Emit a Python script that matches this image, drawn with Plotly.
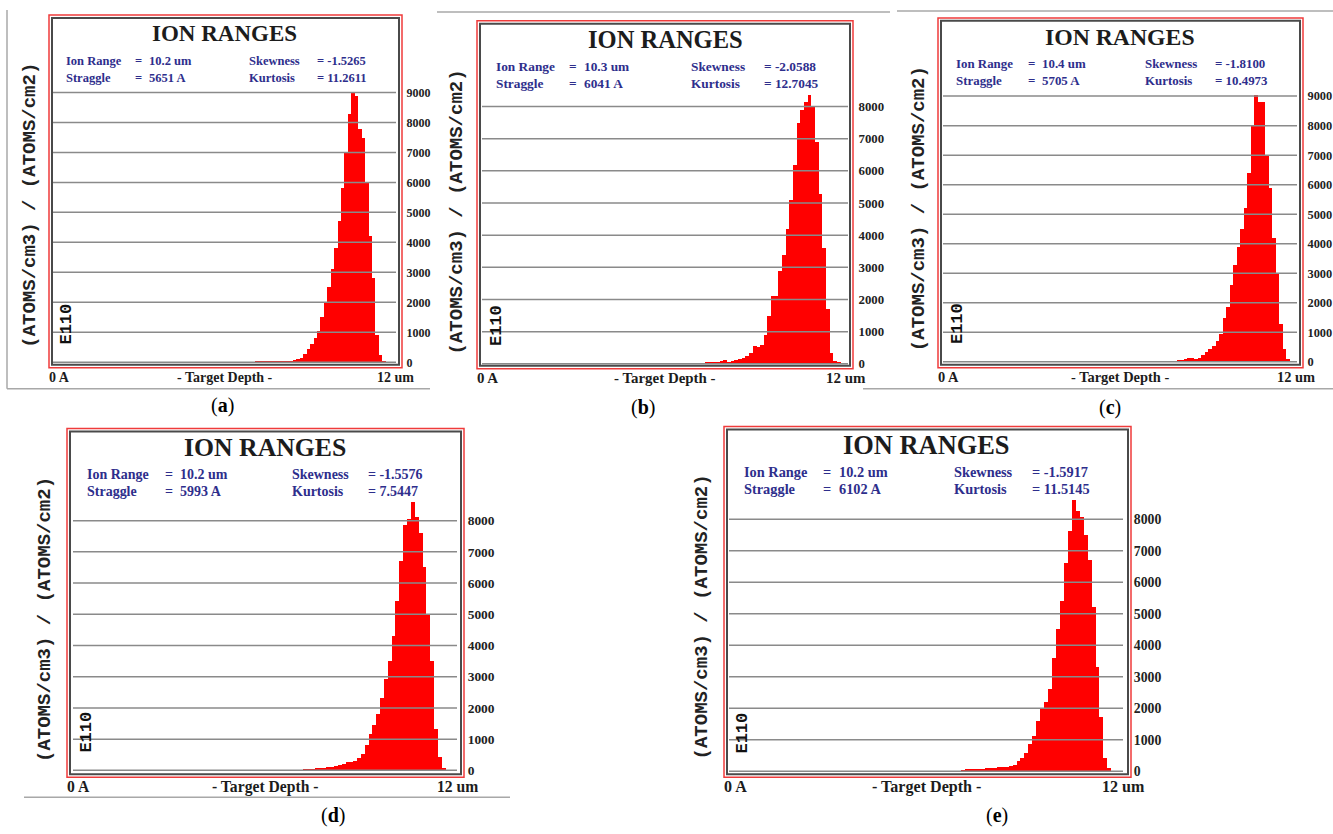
import plotly.graph_objects as go

W, H = 1333, 834

# ---------------- data ----------------
# bin centres (um) of the SRIM depth histogram, 0.12 um bins, bins 55..99
depth_um = [6.66, 6.78, 6.90, 7.02, 7.14, 7.26, 7.38, 7.50, 7.62, 7.74,
            7.86, 7.98, 8.10, 8.22, 8.34, 8.46, 8.58, 8.70, 8.82, 8.94,
            9.06, 9.18, 9.30, 9.42, 9.54, 9.66, 9.78, 9.90, 10.02, 10.14,
            10.26, 10.38, 10.50, 10.62, 10.74, 10.86, 10.98, 11.10, 11.22, 11.34,
            11.46, 11.58, 11.70, 11.82, 11.94]

ions_a = [0, 0, 0, 10, 15, 15, 20, 20, 25, 30,
          30, 35, 40, 50, 60, 70, 100, 150, 280, 450,
          600, 800, 1050, 1500, 2000, 2500, 3100, 3800, 4700, 5800,
          7000, 8300, 9000, 8900, 7800, 7500, 6000, 4200, 2800, 900,
          250, 50, 0, 0, 0]
ions_b = [0, 0, 5, 10, 20, 20, 30, 30, 40, 60,
          90, 110, 70, 90, 120, 150, 200, 260, 330, 560,
          520, 600, 900, 1500, 2100, 2100, 2900, 3400, 4200, 5100,
          6200, 7500, 7900, 8150, 8350, 8000, 6900, 5300, 3600, 1700,
          350, 100, 30, 0, 0]
ions_c = [0, 0, 0, 0, 0, 0, 0, 0, 0, 20,
          30, 50, 70, 90, 120, 150, 90, 150, 250, 330,
          450, 550, 700, 950, 1500, 1850, 2600, 3300, 3900, 4500,
          5200, 6400, 8000, 9050, 8800, 8800, 7000, 5900, 4200, 3000,
          1300, 450, 100, 0, 0]
ions_d = [0, 0, 0, 0, 0, 10, 20, 30, 40, 50,
          70, 90, 110, 140, 170, 200, 240, 270, 300, 380,
          520, 800, 1150, 1450, 1800, 2300, 2900, 3500, 4300, 5400,
          6700, 7850, 8050, 8600, 8100, 7600, 6500, 5000, 3500, 1300,
          400, 60, 0, 0, 0]
ions_e = [0, 0, 0, 0, 20, 30, 30, 30, 40, 60,
          100, 90, 80, 110, 120, 140, 160, 200, 300, 400,
          560, 850, 1100, 1600, 2000, 2200, 2600, 3600, 4500, 5400,
          6600, 7600, 8600, 8250, 8050, 7500, 6700, 5200, 3300, 1700,
          400, 80, 0, 0, 0]

panel_labels = ["a", "b", "c", "d", "e"]
ion_range = ["10.2 um", "10.3 um", "10.4 um", "10.2 um", "10.2 um"]
straggle = ["5651 A", "6041 A", "5705 A", "5993 A", "6102 A"]
skewness = ["-1.5265", "-2.0588", "-1.8100", "-1.5576", "-1.5917"]
kurtosis = ["11.2611", "12.7045", "10.4973", "7.5447", "11.5145"]
ticks_9000 = [0, 1000, 2000, 3000, 4000, 5000, 6000, 7000, 8000, 9000]
ticks_8000 = [0, 1000, 2000, 3000, 4000, 5000, 6000, 7000, 8000]
x_max_um = 12

series = [ions_a, ions_b, ions_c, ions_d, ions_e]
tick_sets = [ticks_9000, ticks_8000, ticks_9000, ticks_8000, ticks_8000]

# ---------------- layout geometry (pixels) ----------------
geom = [
    dict(red=(49, 15, 402, 370), xl=53, xr=396, y0=364.5, k=30.17, cap=(222, 408)),
    dict(red=(477, 21, 853, 371), xl=482, xr=848, y0=366.0, k=32.35, cap=(643, 410)),
    dict(red=(938, 18, 1303, 370), xl=943, xr=1297, y0=364.0, k=29.7, cap=(1110, 410)),
    dict(red=(67, 431, 464, 782), xl=73, xr=457, y0=775.0, k=31.4, cap=(333, 820)),
    dict(red=(724, 429, 1131, 782), xl=729, xr=1123, y0=776.0, k=31.7, cap=(997, 820)),
]


def px(x):
    return x / W


def py(y):
    return 1 - y / H


SERIF = "Liberation Serif"
MONO = "Liberation Mono"
NAVY = "#2e2e8c"
DARK = "#1c1c1c"

fig = go.Figure()
layout = dict(
    width=W, height=H, margin=dict(l=0, r=0, t=0, b=0),
    paper_bgcolor="white", plot_bgcolor="white",
    showlegend=False, bargap=0,
)
shapes = []
annotations = []


def ann(x, y, text, size, color=DARK, family=SERIF, weight="bold",
        xanchor="left", yanchor="middle", angle=0):
    annotations.append(dict(
        x=px(x), y=py(y), xref="paper", yref="paper", text=text,
        showarrow=False, xanchor=xanchor, yanchor=yanchor, textangle=angle,
        font=dict(family=family, size=size, color=color, weight=weight),
    ))


for i, g in enumerate(geom):
    n = i + 1
    xa = "x" if n == 1 else f"x{n}"
    ya = "y" if n == 1 else f"y{n}"
    xkey = "xaxis" if n == 1 else f"xaxis{n}"
    ykey = "yaxis" if n == 1 else f"yaxis{n}"
    l, t, r, b = g["red"]
    xl, xr, y0, k = g["xl"], g["xr"], g["y0"], g["k"]
    s = (xr - xl) / 343.0
    it, ib = t + 3, b - 3
    ymin = -(ib - y0) / k * 1000
    ymax = (y0 - it) / k * 1000
    ticks = tick_sets[i]

    fig.add_trace(go.Bar(
        x=depth_um, y=series[i], width=0.125,
        marker=dict(color="#ff0000", line=dict(width=0)),
        xaxis=xa, yaxis=ya, hoverinfo="skip",
    ))

    layout[xkey] = dict(
        domain=[px(xl), px(xr)], range=[0, x_max_um], anchor=ya,
        showticklabels=False, showgrid=False, zeroline=False, showline=False,
        ticks="", fixedrange=True,
    )
    layout[ykey] = dict(
        domain=[py(ib), py(it)], range=[ymin, ymax], anchor=xa, side="right",
        tickvals=ticks, ticktext=[str(v) for v in ticks],
        ticks="outside", ticklen=7, tickcolor="rgba(0,0,0,0)",
        tickfont=dict(family=SERIF, size=12 * s, color="#222222", weight="bold"),
        showgrid=False, zeroline=False, showline=False, fixedrange=True,
    )

    # horizontal grid lines drawn above the bars
    for v in ticks:
        shapes.append(dict(
            type="line", xref=f"{xa} domain", yref=ya, x0=0, x1=1, y0=v, y1=v,
            line=dict(color="#8a8a8a", width=1.5), layer="above",
        ))

    # frames
    shapes.append(dict(type="rect", xref="paper", yref="paper",
                       x0=px(l), x1=px(r), y0=py(b), y1=py(t),
                       line=dict(color="#ef3b3b", width=1.5), layer="above"))
    shapes.append(dict(type="rect", xref="paper", yref="paper",
                       x0=px(l + 3), x1=px(r - 3), y0=py(b - 3), y1=py(t + 3),
                       line=dict(color="#4a4a4a", width=2), layer="above"))

    # title and statistics
    ann((xl + xr) / 2, t + 19, "ION RANGES", 23 * s, xanchor="center")
    fs = 12.5 * s
    r1, r2 = t + 46, t + 63
    ann(xl + 11 * s, r1, "Ion Range", fs, NAVY)
    ann(xl + 80 * s, r1, "=", fs, NAVY)
    ann(xl + 94 * s, r1, ion_range[i], fs, NAVY)
    ann(xl + 11 * s, r2, "Straggle", fs, NAVY)
    ann(xl + 80 * s, r2, "=", fs, NAVY)
    ann(xl + 94 * s, r2, straggle[i], fs, NAVY)
    ann(xl + 194 * s, r1, "Skewness", fs, NAVY)
    ann(xl + 262 * s, r1, "= " + skewness[i], fs, NAVY)
    ann(xl + 194 * s, r2, "Kurtosis", fs, NAVY)
    ann(xl + 262 * s, r2, "= " + kurtosis[i], fs, NAVY)

    # bottom labels
    ann(l - 2, b + 9.5, "0 A", 14 * s)
    ann((xl + xr) / 2, b + 9.5, "- Target Depth -", 14 * s, xanchor="center")
    ann(r + 14 * s, b + 9.5, "12 um", 14 * s, xanchor="right")

    # vertical labels
    ann(l - 19 * s, t + 192, "(ATOMS/cm3) / (ATOMS/cm2)", 19, "#222222", MONO,
        xanchor="center", angle=-90)
    ann(xl + 14, y0 - 38, "E110", 17, "#111111", MONO, xanchor="center", angle=-90)

    # caption
    cx, cy = g["cap"]
    annotations.append(dict(
        x=px(cx), y=py(cy), xref="paper", yref="paper",
        text=f"(<b>{panel_labels[i]}</b>)", showarrow=False,
        xanchor="center", yanchor="middle",
        font=dict(family=SERIF, size=20, color="#000000"),
    ))

# thin grey borders of the sub-images
GREY = "#a8a8a8"
for (x0, y0_, x1, y1_) in [(7, 10, 7, 391), (7, 391, 430, 391),
                          (437, 12, 890, 12),
                          (897, 11, 1333, 11), (863, 391, 1333, 391),
                          (24, 802, 510, 802)]:
    shapes.append(dict(type="line", xref="paper", yref="paper",
                       x0=px(x0), x1=px(x1), y0=py(y0_), y1=py(y1_),
                       line=dict(color=GREY, width=1.5)))

layout["shapes"] = shapes
layout["annotations"] = annotations
fig.update_layout(**layout)
fig.write_html("out.html")
